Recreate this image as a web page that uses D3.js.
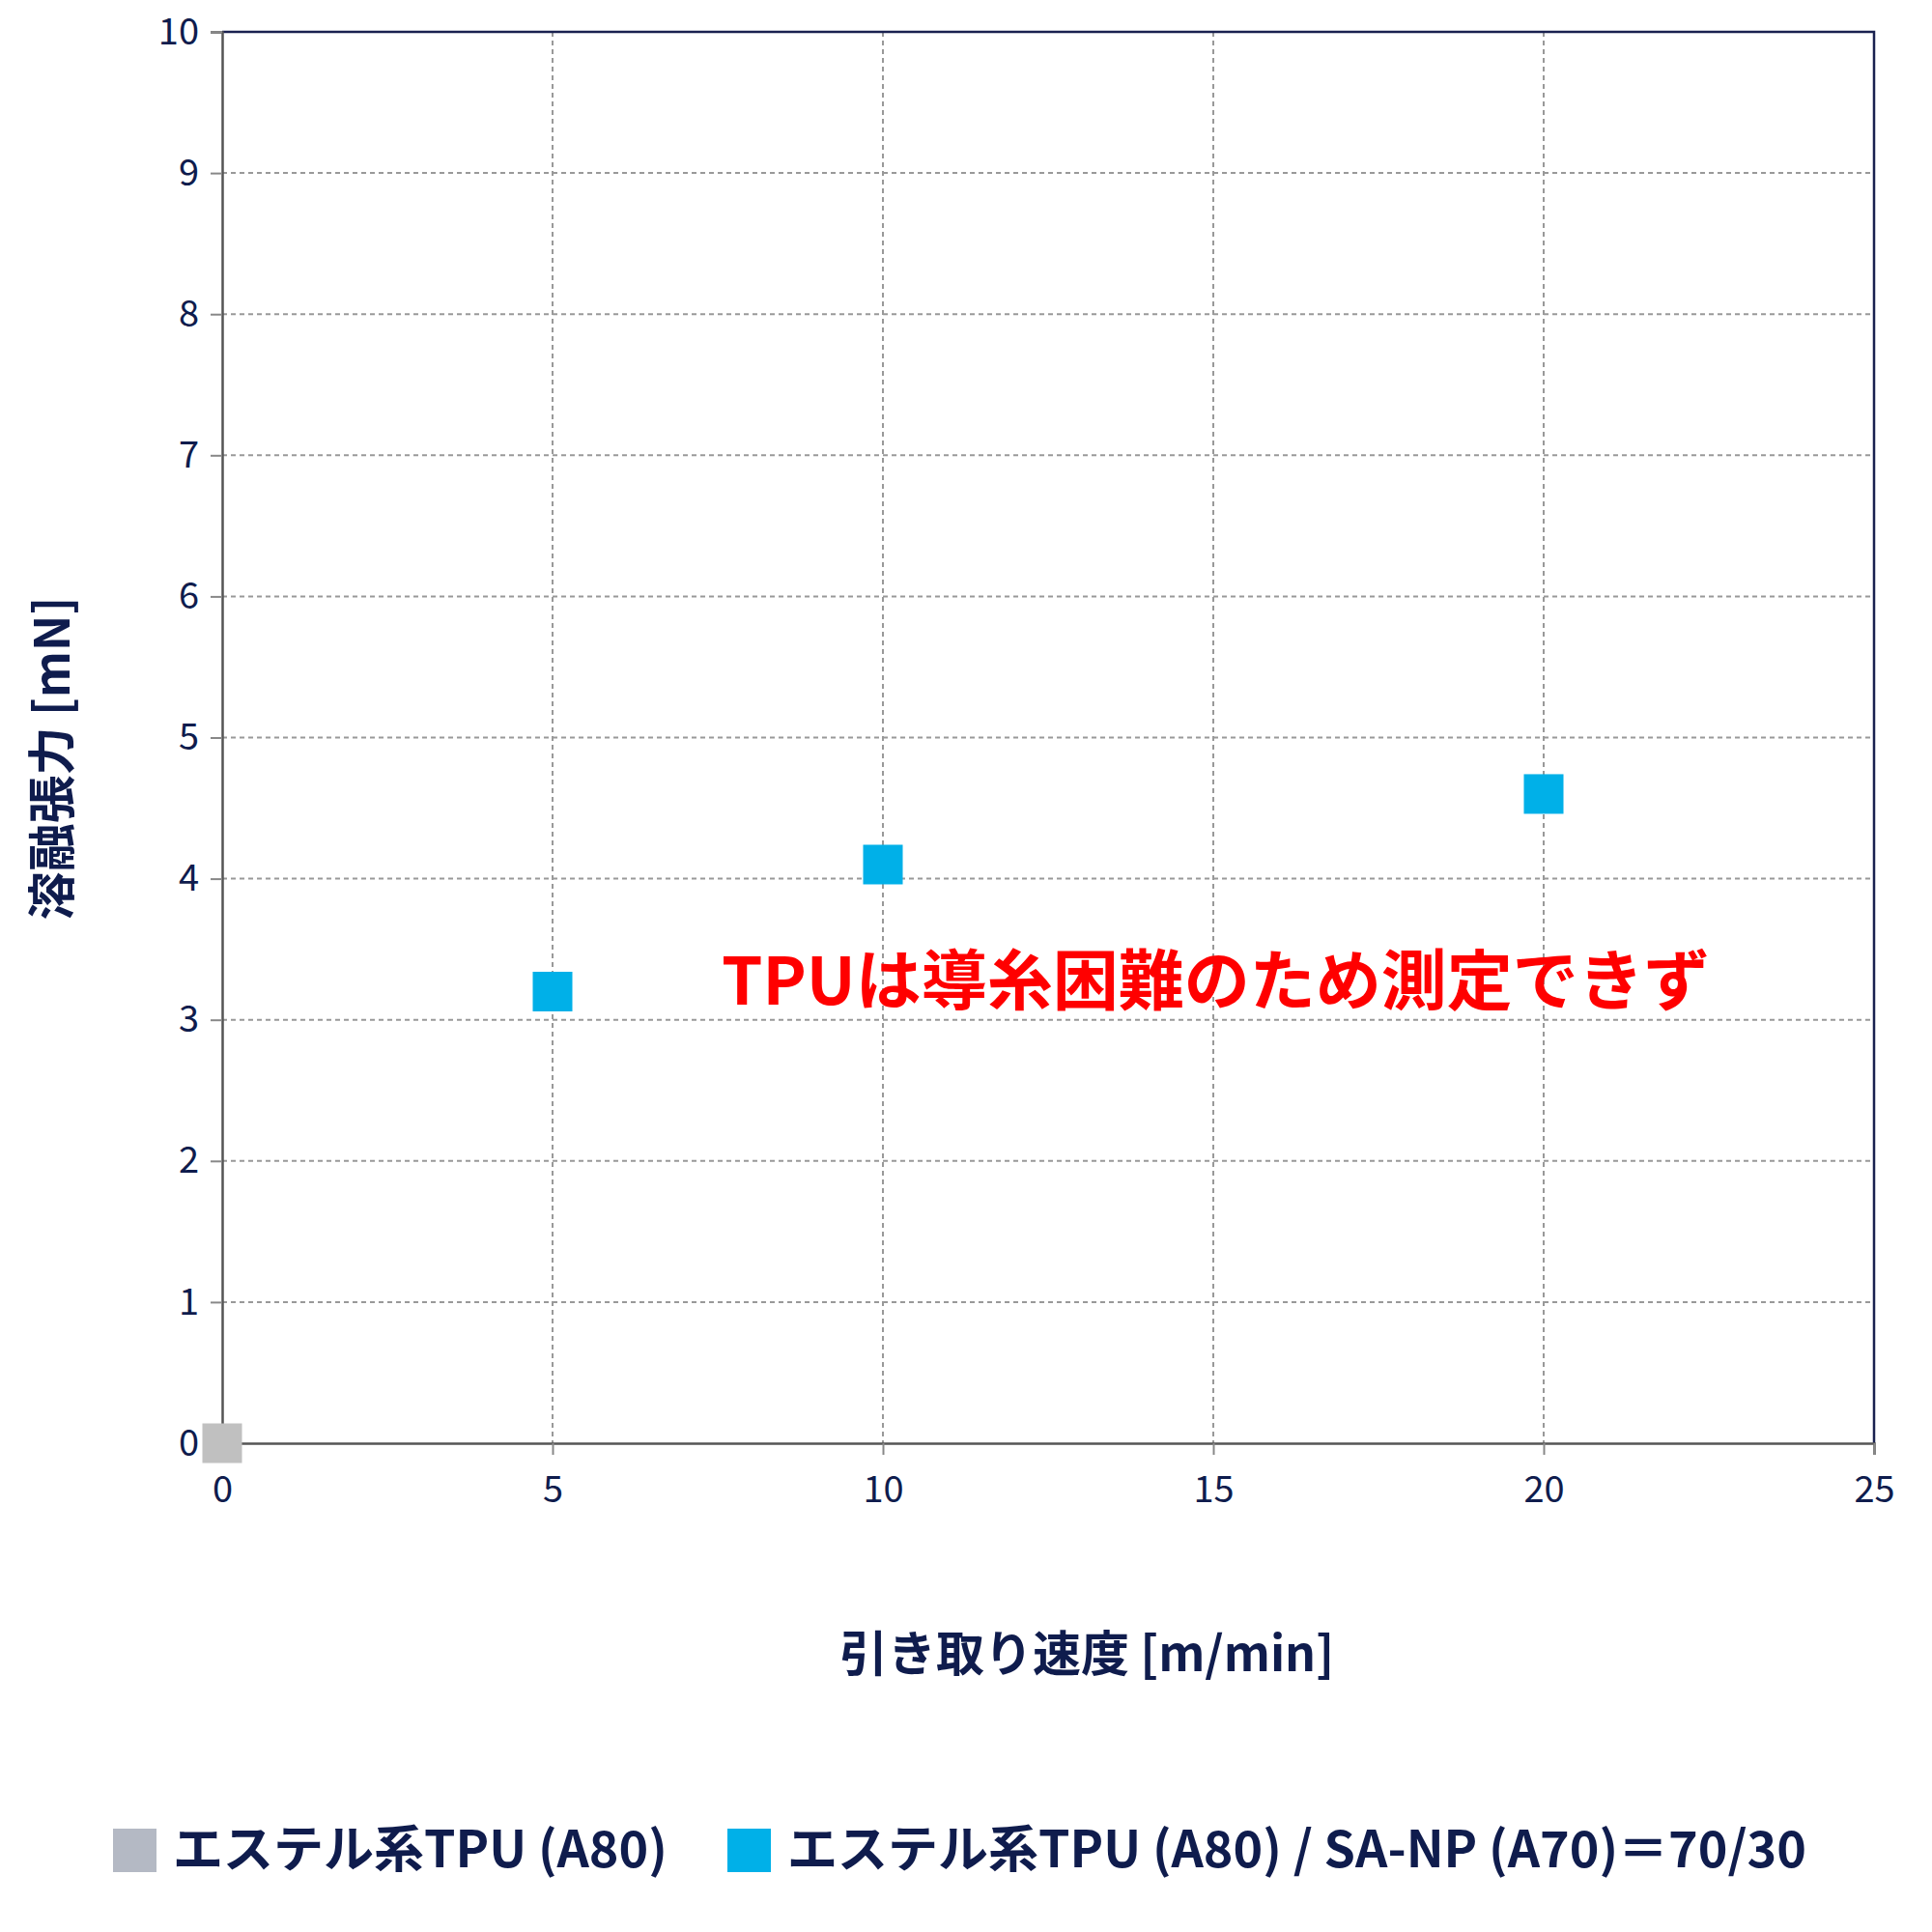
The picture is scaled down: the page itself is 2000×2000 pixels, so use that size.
<!DOCTYPE html>
<html><head><meta charset="utf-8">
<script src="https://cdn.jsdelivr.net/npm/d3@7"></script>
<style>body{margin:0;background:#fff}text{font-family:"Noto Sans CJK JP","Noto Sans",sans-serif;fill:#0f1c4d}</style>
</head><body><svg id="c" width="2000" height="2000"></svg>
<script>
const xTicks = [0, 5, 10, 15, 20, 25];
const yTicks = [0, 1, 2, 3, 4, 5, 6, 7, 8, 9, 10];
const seriesNames = ["エステル系TPU (A80)", "エステル系TPU (A80) / SA-NP (A70)＝70/30"];
const seriesColors = ["#c0c0c0", "#00b0e8"];
const tpuSpeed = [0];
const tpuTension = [0];
const blendSpeed = [5, 10, 20];
const blendTension = [3.2, 4.1, 4.6];

const m = {left: 230, right: 1940, top: 33, bottom: 1494};
const svg = d3.select("#c");
const x = d3.scaleLinear().domain([0, 25]).range([m.left, m.right]);
const y = d3.scaleLinear().domain([0, 10]).range([m.bottom, m.top]);

// grid
svg.append("g").selectAll("line").data(yTicks.slice(1)).join("line")
  .attr("x1", m.left).attr("x2", m.right).attr("y1", d => y(d)).attr("y2", d => y(d))
  .attr("stroke", "#999").attr("stroke-width", 2).attr("stroke-dasharray", "5,4");
svg.append("g").selectAll("line").data(xTicks.slice(1, -1)).join("line")
  .attr("y1", m.top).attr("y2", m.bottom).attr("x1", d => x(d)).attr("x2", d => x(d))
  .attr("stroke", "#999").attr("stroke-width", 2).attr("stroke-dasharray", "5,4");

// frame
svg.append("path").attr("d", `M${m.left},${m.top}H${m.right}V${m.bottom}`)
  .attr("fill", "none").attr("stroke", "#1a2250").attr("stroke-width", 2.5);

const xAxis = svg.append("g").attr("transform", `translate(0,${m.bottom})`)
  .call(d3.axisBottom(x).tickValues(xTicks).tickSize(12).tickPadding(22));
const yAxis = svg.append("g").attr("transform", `translate(${m.left},0)`)
  .call(d3.axisLeft(y).tickValues(yTicks).tickSize(12).tickPadding(12));
[xAxis, yAxis].forEach(a => {
  a.select(".domain").attr("stroke", "#555").attr("stroke-width", 2.5);
  a.selectAll(".tick line").attr("stroke", "#888").attr("stroke-width", 2);
  a.selectAll("text").attr("font-size", 38).attr("font-family", "Noto Sans CJK JP").attr("fill", "#0f1c4d");
});
xAxis.selectAll(".tick line").attr("y1", 0);

const s = 41;
svg.append("g").selectAll("rect").data(blendSpeed.map((v, i) => [v, blendTension[i]])).join("rect")
  .attr("x", d => x(d[0]) - s / 2).attr("y", d => y(d[1]) - s / 2).attr("width", s).attr("height", s)
  .attr("fill", seriesColors[1]);
svg.append("g").selectAll("rect").data(tpuSpeed.map((v, i) => [v, tpuTension[i]])).join("rect")
  .attr("x", d => x(d[0]) - s / 2).attr("y", d => y(d[1]) - s / 2).attr("width", s).attr("height", s)
  .attr("fill", seriesColors[0]);

svg.append("text").attr("x", 747).attr("y", 1040).attr("font-size", 68).attr("font-weight", "bold")
  .style("fill", "#ff0000").text("TPUは導糸困難のため測定できず");

svg.append("text").attr("x", 1125).attr("y", 1730).attr("text-anchor", "middle")
  .attr("font-size", 50).attr("font-weight", "bold").text("引き取り速度 [m/min]");
svg.append("text").attr("transform", "translate(72,785) rotate(-90)").attr("text-anchor", "middle")
  .attr("font-size", 50).attr("font-weight", "bold").text("溶融張力 [mN]");

const legX = [117, 753];
seriesNames.forEach((n, i) => {
  svg.append("rect").attr("x", legX[i]).attr("y", 1893).attr("width", 45).attr("height", 45)
    .attr("fill", i === 0 ? "#b4b9c4" : seriesColors[1]);
  svg.append("text").attr("x", legX[i] + 62).attr("y", 1933).attr("font-size", 52)
    .attr("font-weight", "bold").text(n);
});
</script></body></html>
